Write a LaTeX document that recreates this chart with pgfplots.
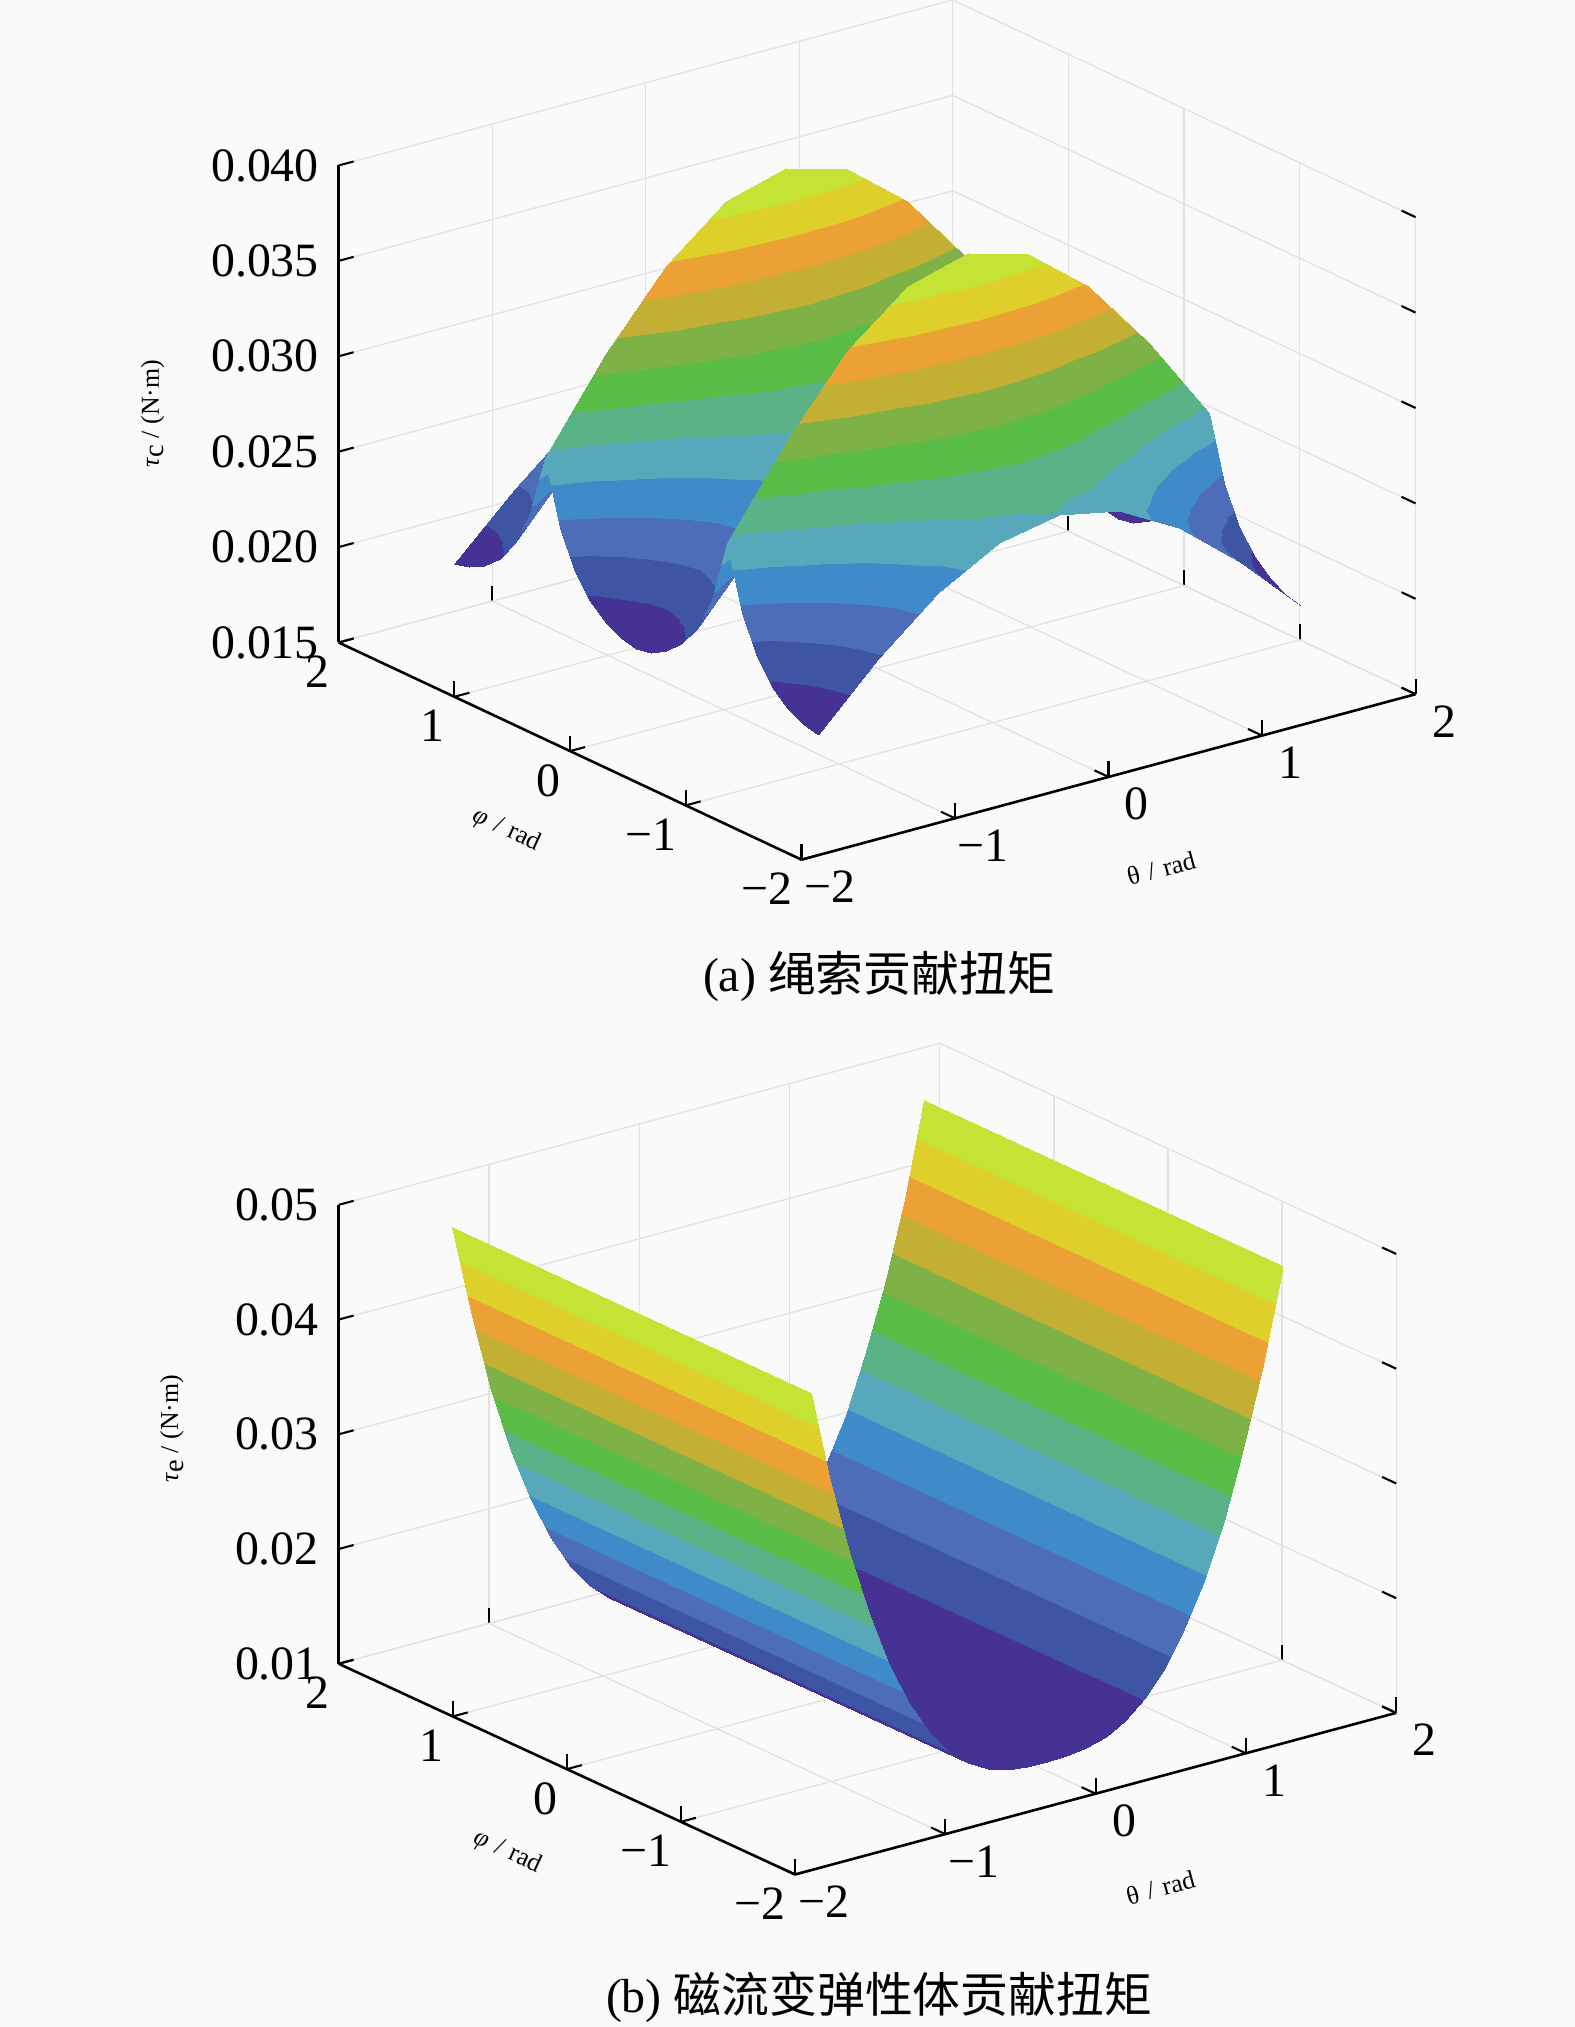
\documentclass[border=0pt]{standalone}
\usepackage{fontspec}
\setmainfont{Liberation Serif}
\newfontfamily\cjk{Noto Sans CJK SC}
\usepackage{pgfplots}
\pgfplotsset{compat=1.18}
\definecolor{bgc}{RGB}{250,250,250}
\definecolor{gridc}{RGB}{226,226,226}
\pgfplotsset{
 colormap={bands}{
  rgb255(0cm)=(70,50,148) rgb255(0.99cm)=(70,50,148)
  rgb255(1cm)=(61,85,163) rgb255(1.99cm)=(61,85,163)
  rgb255(2cm)=(78,109,184) rgb255(2.99cm)=(78,109,184)
  rgb255(3cm)=(63,138,200) rgb255(3.99cm)=(63,138,200)
  rgb255(4cm)=(88,168,188) rgb255(4.99cm)=(88,168,188)
  rgb255(5cm)=(90,178,135) rgb255(5.99cm)=(90,178,135)
  rgb255(6cm)=(88,188,70) rgb255(6.99cm)=(88,188,70)
  rgb255(7cm)=(127,178,70) rgb255(7.99cm)=(127,178,70)
  rgb255(8cm)=(195,175,52) rgb255(8.99cm)=(195,175,52)
  rgb255(9cm)=(235,161,51) rgb255(9.99cm)=(235,161,51)
  rgb255(10cm)=(223,207,42) rgb255(10.99cm)=(223,207,42)
  rgb255(11cm)=(197,227,52) rgb255(12cm)=(197,227,52)
 },
 mine/.style={
  anchor=south west, clip=false,
  xmin=-2,xmax=2,ymin=-2,ymax=2,
  xtick={-2,-1,0,1,2}, ytick={-2,-1,0,1,2},
  xticklabels={−2,−1,0,1,2}, yticklabels={−2,−1,0,1,2},
  scaled z ticks=false,
  grid=major, major grid style={gridc,line width=0.5pt},
  axis line style={draw=none},
  tick align=inside, major tick length=6pt,
  tick style={black,line width=0.8pt},
  tickpos=left,
  tick label style={font=\fontsize{18.5}{20}\selectfont, inner sep=0pt},
  xticklabel style={anchor=center,xshift=11pt,yshift=-10.5pt},
  yticklabel style={anchor=north east,xshift=-3.5pt,yshift=-5pt},
  zticklabel style={anchor=east,xshift=-7.5pt},
  label style={font=\fontsize{18.5}{20}\selectfont},
 }
}
\begin{document}
\begin{tikzpicture}[x=1pt,y=1pt]
\fill[bgc] (0,0) rectangle (609,-784);
\useasboundingbox (0,0) rectangle (609,-784);
\begin{axis}[mine, at={(131pt,-332.5pt)},
 x={(59.375pt,16pt)}, y={(-44.75pt,21pt)}, z={(0pt,7380pt)},
 zmin=0.015,zmax=0.04,
 ztick={0.015,0.02,0.025,0.03,0.035,0.04},
 zticklabels={0.015,0.020,0.025,0.030,0.035,0.040},
 xlabel={θ\,\,/\,\,rad}, ylabel={\textit{φ}\,\,/\,\,rad},
 zlabel={\textit{τ}\raisebox{-2pt}{\fontsize{11}{11}\selectfont c} / (N·m)},
 every axis x label/.style={at={(axis cs:0.2,-2,0.015)},xshift=8.5pt,yshift=-38.5pt,rotate=15,anchor=center},
 every axis y label/.style={at={(axis cs:-2,0,0.015)},xshift=-24.5pt,yshift=-30.5pt,rotate=-25,anchor=center},
 every axis z label/.style={at={(axis cs:-2,2,0.027)},xshift=-72pt,rotate=90,anchor=center},
]
\addplot3[surf,shader=interp,z buffer=none,colormap name=bands] table {
x y z
1.571 1.571 0.01940
1.571 1.440 0.01960
1.571 1.309 0.02006
1.571 1.178 0.02080
1.571 1.047 0.02197
1.571 0.916 0.02392
1.571 0.785 0.02720
1.571 0.654 0.02392
1.571 0.524 0.02197
1.571 0.393 0.02080
1.571 0.262 0.02006
1.571 0.131 0.01960
1.571 0 0.01940
1.571 -0.131 0.01960
1.571 -0.262 0.02006
1.571 -0.393 0.02080
1.571 -0.524 0.02197
1.571 -0.654 0.02392
1.571 -0.785 0.02720
1.571 -0.916 0.02392
1.571 -1.047 0.02197
1.571 -1.178 0.02080
1.571 -1.309 0.02006
1.571 -1.440 0.01960
1.571 -1.571 0.01940

1.178 1.571 0.02250
1.178 1.440 0.02273
1.178 1.309 0.02328
1.178 1.178 0.02416
1.178 1.047 0.02554
1.178 0.916 0.02785
1.178 0.785 0.03172
1.178 0.654 0.02785
1.178 0.524 0.02554
1.178 0.393 0.02416
1.178 0.262 0.02328
1.178 0.131 0.02273
1.178 0 0.02250
1.178 -0.131 0.02273
1.178 -0.262 0.02328
1.178 -0.393 0.02416
1.178 -0.524 0.02554
1.178 -0.654 0.02785
1.178 -0.785 0.03172
1.178 -0.916 0.02785
1.178 -1.047 0.02554
1.178 -1.178 0.02416
1.178 -1.309 0.02328
1.178 -1.440 0.02273
1.178 -1.571 0.02250

0.785 1.571 0.02513
0.785 1.440 0.02539
0.785 1.309 0.02602
0.785 1.178 0.02701
0.785 1.047 0.02857
0.785 0.916 0.03117
0.785 0.785 0.03555
0.785 0.654 0.03117
0.785 0.524 0.02857
0.785 0.393 0.02701
0.785 0.262 0.02602
0.785 0.131 0.02539
0.785 0 0.02513
0.785 -0.131 0.02539
0.785 -0.262 0.02602
0.785 -0.393 0.02701
0.785 -0.524 0.02857
0.785 -0.654 0.03117
0.785 -0.785 0.03555
0.785 -0.916 0.03117
0.785 -1.047 0.02857
0.785 -1.178 0.02701
0.785 -1.309 0.02602
0.785 -1.440 0.02539
0.785 -1.571 0.02513

0.393 1.571 0.02688
0.393 1.440 0.02716
0.393 1.309 0.02783
0.393 1.178 0.02890
0.393 1.047 0.03058
0.393 0.916 0.03339
0.393 0.785 0.03810
0.393 0.654 0.03339
0.393 0.524 0.03058
0.393 0.393 0.02890
0.393 0.262 0.02783
0.393 0.131 0.02716
0.393 0 0.02688
0.393 -0.131 0.02716
0.393 -0.262 0.02783
0.393 -0.393 0.02890
0.393 -0.524 0.03058
0.393 -0.654 0.03339
0.393 -0.785 0.03810
0.393 -0.916 0.03339
0.393 -1.047 0.03058
0.393 -1.178 0.02890
0.393 -1.309 0.02783
0.393 -1.440 0.02716
0.393 -1.571 0.02688

0 1.571 0.02750
0 1.440 0.02779
0 1.309 0.02848
0 1.178 0.02957
0 1.047 0.03130
0 0.916 0.03417
0 0.785 0.03900
0 0.654 0.03417
0 0.524 0.03130
0 0.393 0.02957
0 0.262 0.02848
0 0.131 0.02779
0 0 0.02750
0 -0.131 0.02779
0 -0.262 0.02848
0 -0.393 0.02957
0 -0.524 0.03130
0 -0.654 0.03417
0 -0.785 0.03900
0 -0.916 0.03417
0 -1.047 0.03130
0 -1.178 0.02957
0 -1.309 0.02848
0 -1.440 0.02779
0 -1.571 0.02750

-0.393 1.571 0.02688
-0.393 1.440 0.02716
-0.393 1.309 0.02783
-0.393 1.178 0.02890
-0.393 1.047 0.03058
-0.393 0.916 0.03339
-0.393 0.785 0.03810
-0.393 0.654 0.03339
-0.393 0.524 0.03058
-0.393 0.393 0.02890
-0.393 0.262 0.02783
-0.393 0.131 0.02716
-0.393 0 0.02688
-0.393 -0.131 0.02716
-0.393 -0.262 0.02783
-0.393 -0.393 0.02890
-0.393 -0.524 0.03058
-0.393 -0.654 0.03339
-0.393 -0.785 0.03810
-0.393 -0.916 0.03339
-0.393 -1.047 0.03058
-0.393 -1.178 0.02890
-0.393 -1.309 0.02783
-0.393 -1.440 0.02716
-0.393 -1.571 0.02688

-0.785 1.571 0.02513
-0.785 1.440 0.02539
-0.785 1.309 0.02602
-0.785 1.178 0.02701
-0.785 1.047 0.02857
-0.785 0.916 0.03117
-0.785 0.785 0.03555
-0.785 0.654 0.03117
-0.785 0.524 0.02857
-0.785 0.393 0.02701
-0.785 0.262 0.02602
-0.785 0.131 0.02539
-0.785 0 0.02513
-0.785 -0.131 0.02539
-0.785 -0.262 0.02602
-0.785 -0.393 0.02701
-0.785 -0.524 0.02857
-0.785 -0.654 0.03117
-0.785 -0.785 0.03555
-0.785 -0.916 0.03117
-0.785 -1.047 0.02857
-0.785 -1.178 0.02701
-0.785 -1.309 0.02602
-0.785 -1.440 0.02539
-0.785 -1.571 0.02513

-1.178 1.571 0.02250
-1.178 1.440 0.02273
-1.178 1.309 0.02328
-1.178 1.178 0.02416
-1.178 1.047 0.02554
-1.178 0.916 0.02785
-1.178 0.785 0.03172
-1.178 0.654 0.02785
-1.178 0.524 0.02554
-1.178 0.393 0.02416
-1.178 0.262 0.02328
-1.178 0.131 0.02273
-1.178 0 0.02250
-1.178 -0.131 0.02273
-1.178 -0.262 0.02328
-1.178 -0.393 0.02416
-1.178 -0.524 0.02554
-1.178 -0.654 0.02785
-1.178 -0.785 0.03172
-1.178 -0.916 0.02785
-1.178 -1.047 0.02554
-1.178 -1.178 0.02416
-1.178 -1.309 0.02328
-1.178 -1.440 0.02273
-1.178 -1.571 0.02250

-1.571 1.571 0.01940
-1.571 1.440 0.01960
-1.571 1.309 0.02006
-1.571 1.178 0.02080
-1.571 1.047 0.02197
-1.571 0.916 0.02392
-1.571 0.785 0.02720
-1.571 0.654 0.02392
-1.571 0.524 0.02197
-1.571 0.393 0.02080
-1.571 0.262 0.02006
-1.571 0.131 0.01960
-1.571 0 0.01940
-1.571 -0.131 0.01960
-1.571 -0.262 0.02006
-1.571 -0.393 0.02080
-1.571 -0.524 0.02197
-1.571 -0.654 0.02392
-1.571 -0.785 0.02720
-1.571 -0.916 0.02392
-1.571 -1.047 0.02197
-1.571 -1.178 0.02080
-1.571 -1.309 0.02006
-1.571 -1.440 0.01960
-1.571 -1.571 0.01940
};
\draw[black,line width=1pt] (axis cs:-2,-2,0.015) -- (axis cs:2,-2,0.015);
\draw[black,line width=1pt] (axis cs:-2,-2,0.015) -- (axis cs:-2,2,0.015);
\draw[black,line width=1.2pt] (axis cs:-2,2,0.015) -- (axis cs:-2,2,0.04);
\end{axis}
\begin{axis}[mine, at={(131pt,-725pt)},
 x={(58.125pt,15.625pt)}, y={(-44.125pt,20.375pt)}, z={(0pt,4437.5pt)},
 zmin=0.01,zmax=0.05,
 ztick={0.01,0.02,0.03,0.04,0.05},
 zticklabels={0.01,0.02,0.03,0.04,0.05},
 xlabel={θ\,\,/\,\,rad}, ylabel={\textit{φ}\,\,/\,\,rad},
 zlabel={\textit{τ}\raisebox{-2pt}{\fontsize{11}{11}\selectfont e} / (N·m)},
 every axis x label/.style={at={(axis cs:0.2,-2,0.01)},xshift=13.5pt,yshift=-39.5pt,rotate=15,anchor=center},
 every axis y label/.style={at={(axis cs:-2,0,0.01)},xshift=-23pt,yshift=-32pt,rotate=-25,anchor=center},
 every axis z label/.style={at={(axis cs:-2,2,0.0305)},xshift=-64.5pt,rotate=90,anchor=center},
]
\addplot3[surf,shader=interp,z buffer=none,colormap name=bands] table {
x y z
1.571 1.571 0.04850
1.571 -1.571 0.04850

1.440 1.571 0.04035
1.440 -1.571 0.04035

1.309 1.571 0.03343
1.309 -1.571 0.03343

1.178 1.571 0.02765
1.178 -1.571 0.02765

1.047 1.571 0.02291
1.047 -1.571 0.02291

0.916 1.571 0.01914
0.916 -1.571 0.01914

0.785 1.571 0.01621
0.785 -1.571 0.01621

0.654 1.571 0.01405
0.654 -1.571 0.01405

0.524 1.571 0.01254
0.524 -1.571 0.01254

0.393 1.571 0.01158
0.393 -1.571 0.01158

0.262 1.571 0.01105
0.262 -1.571 0.01105

0.131 1.571 0.01084
0.131 -1.571 0.01084

0 1.571 0.01080
0 -1.571 0.01080

-0.131 1.571 0.01084
-0.131 -1.571 0.01084

-0.262 1.571 0.01105
-0.262 -1.571 0.01105

-0.393 1.571 0.01158
-0.393 -1.571 0.01158

-0.524 1.571 0.01254
-0.524 -1.571 0.01254

-0.654 1.571 0.01405
-0.654 -1.571 0.01405

-0.785 1.571 0.01621
-0.785 -1.571 0.01621

-0.916 1.571 0.01914
-0.916 -1.571 0.01914

-1.047 1.571 0.02291
-1.047 -1.571 0.02291

-1.178 1.571 0.02765
-1.178 -1.571 0.02765

-1.309 1.571 0.03343
-1.309 -1.571 0.03343

-1.440 1.571 0.04035
-1.440 -1.571 0.04035

-1.571 1.571 0.04850
-1.571 -1.571 0.04850
};
\draw[black,line width=1pt] (axis cs:-2,-2,0.01) -- (axis cs:2,-2,0.01);
\draw[black,line width=1pt] (axis cs:-2,-2,0.01) -- (axis cs:-2,2,0.01);
\draw[black,line width=1.2pt] (axis cs:-2,2,0.01) -- (axis cs:-2,2,0.05);
\end{axis}
\node[font=\fontsize{18.5}{20}\selectfont] at (340,-377.5) {(a) {\cjk 绳索贡献扭矩}};
\node[font=\fontsize{18.5}{20}\selectfont] at (340,-772.5) {(b) {\cjk 磁流变弹性体贡献扭矩}};
\end{tikzpicture}
\end{document}
